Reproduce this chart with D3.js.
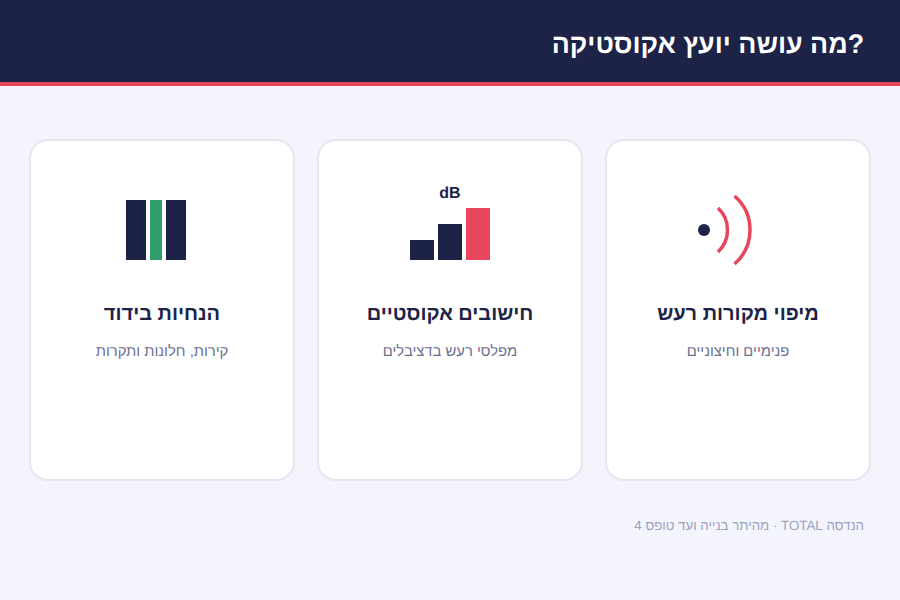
<!DOCTYPE html>
<html lang="he">
<head>
<meta charset="utf-8">
<script src="https://cdn.jsdelivr.net/npm/d3@7"></script>
<style>
html,body{margin:0;padding:0;background:#f4f5fc}
svg{display:block}
text{font-family:"Liberation Sans",Arial,sans-serif;text-rendering:geometricPrecision}
</style>
</head>
<body>
<div id="chart"></div>
<script>
const chartTitle = "מה עושה יועץ אקוסטיקה?";
const footerText = "הנדסה TOTAL · מהיתר בנייה ועד טופס 4";
const cardTitles = ["מיפוי מקורות רעש", "חישובים אקוסטיים", "הנחיות בידוד"];
const cardSubtitles = ["פנימיים וחיצוניים", "מפלסי רעש בדציבלים", "קירות, חלונות ותקרות"];
const dbLevels = [20, 36, 52];
const dbColors = ["#1c2346", "#1c2346", "#e8465c"];
const layerWidths = [20, 12, 20];
const layerColors = ["#1c2346", "#2e9e6b", "#1c2346"];
const waveRadii = [30, 45];
const waveSpans = [47, 49];
const waveOffsets = [-6.5, 1];

const W = 900, H = 600, navy = "#1c2346", red = "#e8465c";
const svg = d3.select("#chart").append("svg").attr("width", W).attr("height", H).attr("viewBox", `0 0 ${W} ${H}`);
svg.append("rect").attr("width", W).attr("height", H).attr("fill", "#f4f5fc");
svg.append("rect").attr("width", W).attr("height", 82).attr("fill", navy);
svg.append("rect").attr("y", 82).attr("width", W).attr("height", 4).attr("fill", red);
svg.append("text").attr("x", 864).attr("y", 53).attr("text-anchor", "end")
  .attr("font-size", 26.8).attr("font-weight", 700).attr("fill", "#fff").text(chartTitle);

const cardX = d3.scaleBand().domain([2, 1, 0]).range([30, 870]).paddingInner(24 / 288);
const cards = svg.selectAll("g.card").data(cardTitles).join("g").attr("class", "card")
  .attr("transform", (d, i) => `translate(${cardX(i)},140)`);
cards.append("rect").attr("width", cardX.bandwidth()).attr("height", 340).attr("rx", 18)
  .attr("fill", "#fff").attr("stroke", "#e4e6f0").attr("stroke-width", 2);
cards.append("text").attr("x", cardX.bandwidth() / 2).attr("y", 180).attr("text-anchor", "middle")
  .attr("font-size", 20).attr("font-weight", 700).attr("fill", navy).text(d => d);
cards.append("text").data(cardSubtitles).attr("x", cardX.bandwidth() / 2).attr("y", 216).attr("text-anchor", "middle")
  .attr("font-size", 14.8).attr("fill", "#6b7090").text(d => d);

// Card 1: noise source
const c1 = svg.append("g").attr("transform", "translate(704,230)");
c1.append("circle").attr("r", 6).attr("fill", navy);
c1.selectAll("path").data(waveRadii).join("path")
  .attr("transform", (d, i) => `translate(${waveOffsets[i]},0)`)
  .attr("fill", "none").attr("stroke", red).attr("stroke-width", 3.5)
  .attr("d", (d, i) => {
    const a = waveSpans[i] * Math.PI / 180, p = d3.path();
    p.arc(0, 0, d, -a, a);
    return p.toString();
  });

// Card 2: dB bars
const dbX = d3.scaleBand().domain(d3.range(dbLevels.length)).range([410, 490]).paddingInner(4 / 28);
const dbY = d3.scaleLinear().domain([0, 52]).range([260, 208]);
svg.selectAll("rect.db").data(dbLevels).join("rect").attr("class", "db")
  .attr("x", (d, i) => dbX(i)).attr("width", dbX.bandwidth())
  .attr("y", d => dbY(d)).attr("height", d => dbY(0) - dbY(d))
  .attr("fill", (d, i) => dbColors[i]);
svg.append("text").attr("x", 450).attr("y", 198).attr("text-anchor", "middle")
  .attr("font-size", 16).attr("font-weight", 700).attr("fill", navy).text("dB");

// Card 3: insulation layers
const layerX = d3.scaleLinear().domain([0, 60]).range([126, 186]);
let acc = 0;
const layerStarts = layerWidths.map(w => { const s = acc; acc += w + 4; return s; });
svg.selectAll("rect.layer").data(layerWidths).join("rect").attr("class", "layer")
  .attr("x", (d, i) => layerX(layerStarts[i])).attr("y", 200)
  .attr("width", d => layerX(d) - layerX(0)).attr("height", 60)
  .attr("fill", (d, i) => layerColors[i]);

svg.append("text").attr("x", 864).attr("y", 530).attr("direction", "rtl").attr("text-anchor", "start")
  .attr("font-size", 13.3).attr("fill", "#9ba1c0").text(footerText);
</script>
</body>
</html>
